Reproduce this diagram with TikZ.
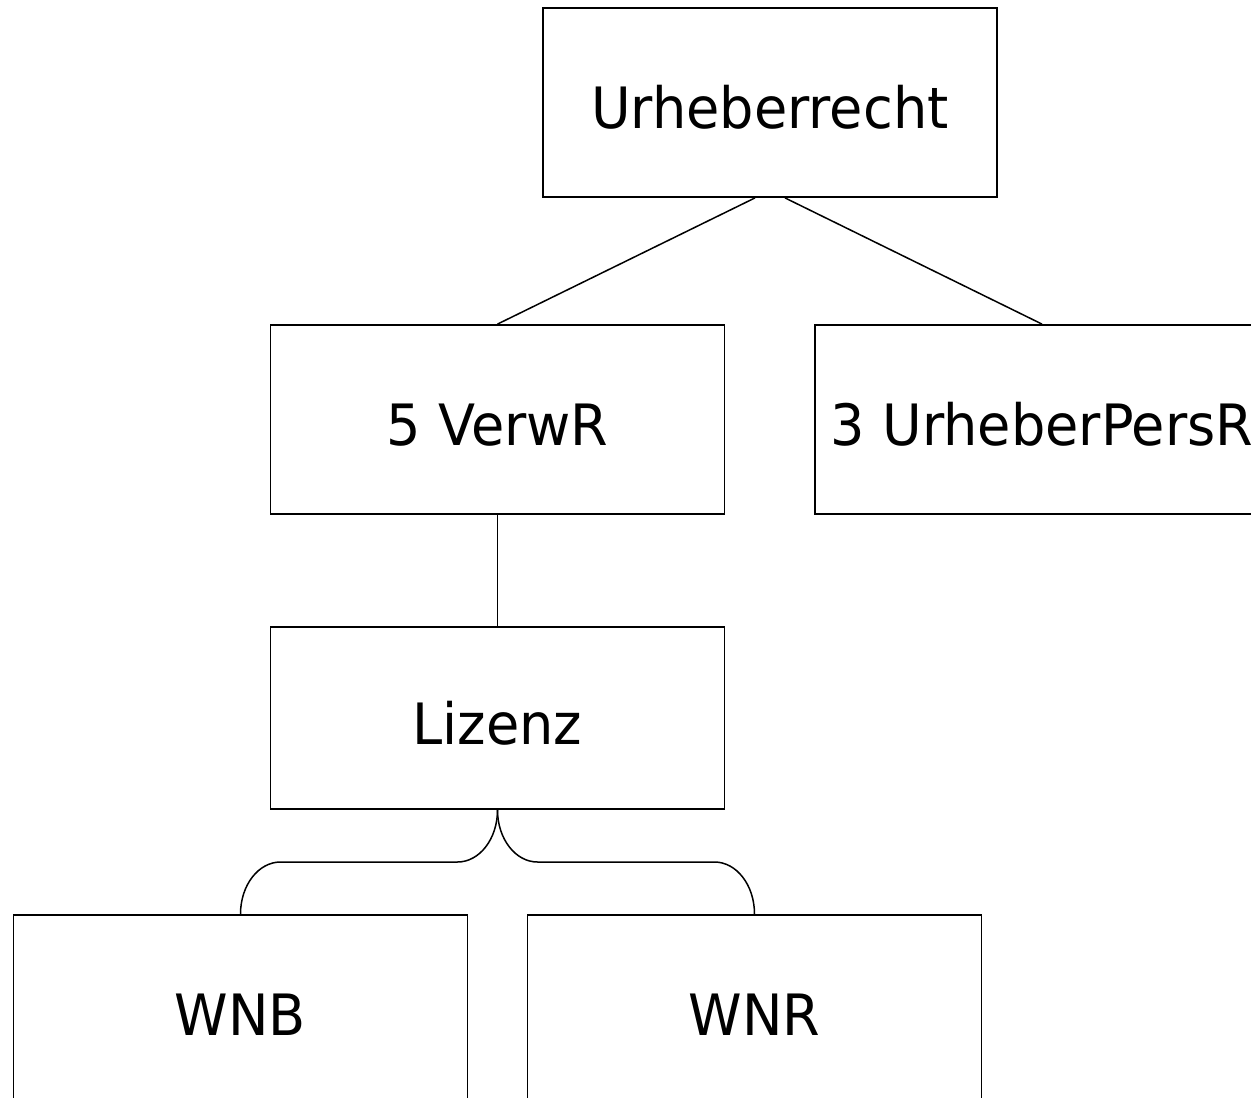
\documentclass[tikz,border=0pt]{standalone}
\usepackage{fontspec}
\setmainfont{DejaVu Sans}[FakeStretch=0.95]
\usepackage{tikz}
\usetikzlibrary{calc}

\begin{document}
\begin{tikzpicture}[x=1pt, y=-1pt,
    box/.style={draw, line width=1.8pt, minimum width=454pt, minimum height=189pt,
      inner sep=0pt, text height=52pt, text depth=0pt, font=\fontsize{57}{68}\selectfont},
    conn/.style={line width=1.5pt}]
    \useasboundingbox (0,0) rectangle (1251,1098);

    % Top
    \node[box] (urh) at (770,102.5) {Urheberrecht};

    % Second row
    \node[box] (verw) at (497.5,419.5) {5 VerwR};
    \node[box] (pers) at (1042,419.5) {3 UrheberPersR};
    \draw[conn] ([xshift=-15pt]urh.south) -- (verw.north);
    \draw[conn] ([xshift=15pt]urh.south) -- (pers.north);

    % Lizenz
    \node[box, minimum height=182pt] (liz) at (497.5,718) {Lizenz};
    \draw[conn] (verw.south) -- (liz.north);

    % Bottom row
    \node[box] (wnb) at (240.5,1009.5) {WNB};
    \node[box] (wnr) at (754.5,1009.5) {WNR};

    % Split below Lizenz
    \coordinate (split) at ($(liz.south)!0.5!(wnb.north)$);
    \coordinate (ls1) at ($(liz.south |- split) + (-40,0)$);
    \coordinate (ls2) at ($(wnb.north |- split) + (40,0)$);
    \coordinate (rs1) at ($(liz.south |- split) + (40,0)$);
    \coordinate (rs2) at ($(wnr.north |- split) + (-40,0)$);
    \draw[conn] (liz.south) .. controls +(0,29) and +(22,0) .. (ls1) -- (ls2)
      .. controls +(-22,0) and +(0,-29) .. (wnb.north);
    \draw[conn] (liz.south) .. controls +(0,29) and +(-22,0) .. (rs1) -- (rs2)
      .. controls +(22,0) and +(0,-29) .. (wnr.north);
\end{tikzpicture}
\end{document}
